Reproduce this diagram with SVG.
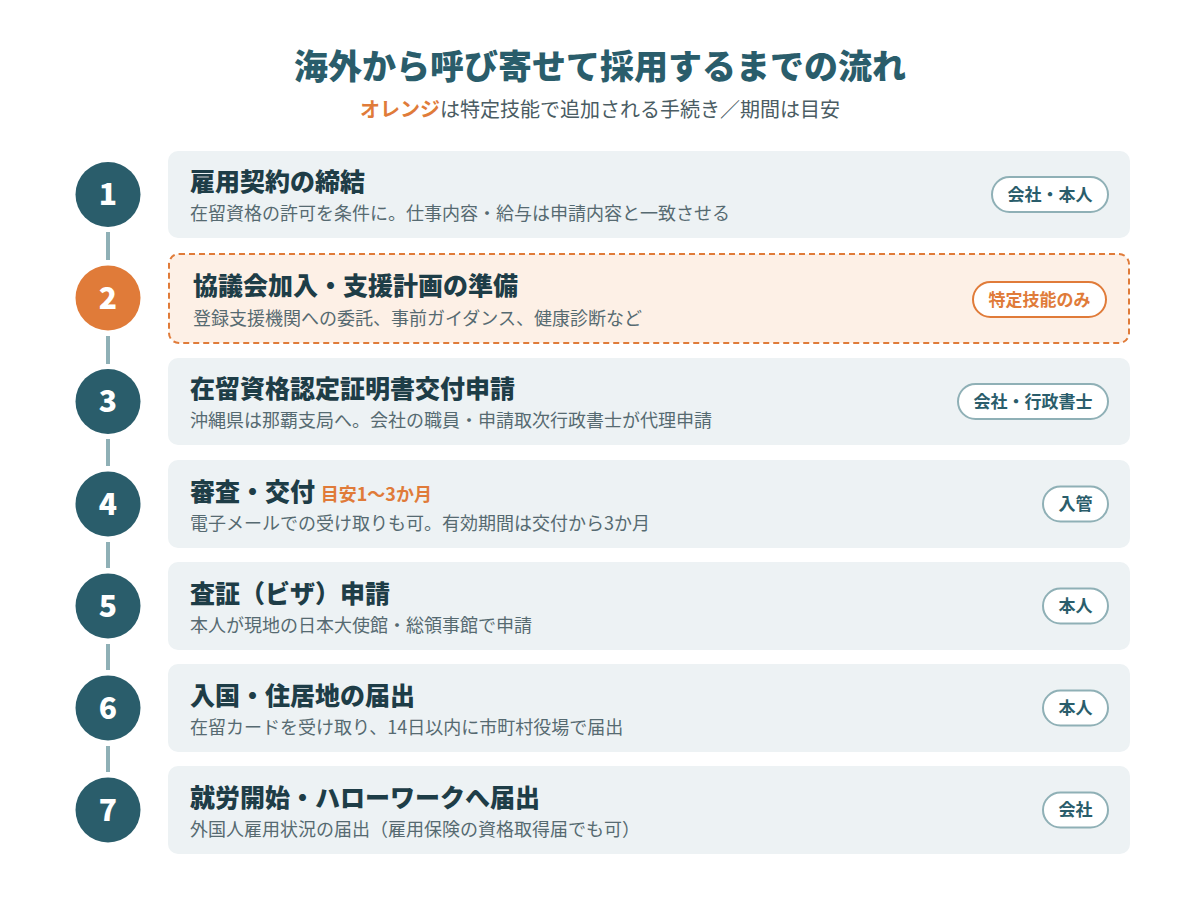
<svg xmlns="http://www.w3.org/2000/svg" width="1200" height="900" viewBox="0 0 1200 900">
<style>
text{font-family:"Noto Sans CJK JP","Noto Sans",sans-serif;}
.ttl{font-size:34px;font-weight:900;fill:#2a5d6b;}
.sub{font-size:20px;fill:#4a5c63;}
.card{fill:#edf2f4;}
.card2{fill:#fdf0e6;stroke:#e07b39;stroke-width:2;stroke-dasharray:6 4;}
.num{font-size:30px;font-weight:900;fill:#ffffff;text-anchor:middle;}
.h{font-size:25px;font-weight:900;fill:#1e3d47;}
.d{font-size:18px;fill:#566a71;}
.badge{fill:#ffffff;stroke:#8fb0b6;stroke-width:2;}
.badge2{fill:#ffffff;stroke:#e07b39;stroke-width:2;}
.bt{font-size:17px;font-weight:700;fill:#2a5d6b;text-anchor:middle;}
.bt2{font-size:17px;font-weight:700;fill:#e07b39;text-anchor:middle;}
.conn{stroke:#8fb0b6;stroke-width:4;}
</style>
<rect width="1200" height="900" fill="#ffffff"/>
<g id="header">
<text class="ttl" x="600" y="79" text-anchor="middle">海外から呼び寄せて採用するまでの流れ</text>
<text class="sub" x="600" y="117" text-anchor="middle"><tspan font-weight="700" fill="#e07b39">オレンジ</tspan>は特定技能で追加される手続き／期間は目安</text>
</g>
<g id="connectors">
<line class="conn" x1="108" y1="232" x2="108" y2="260"/>
<line class="conn" x1="108" y1="336" x2="108" y2="364"/>
<line class="conn" x1="108" y1="439" x2="108" y2="466"/>
<line class="conn" x1="108" y1="542" x2="108" y2="568"/>
<line class="conn" x1="108" y1="644" x2="108" y2="670"/>
<line class="conn" x1="108" y1="746" x2="108" y2="772"/>
</g>
<g id="step1">
<circle cx="108" cy="194.5" r="32.5" fill="#2a5d6b"/>
<text class="num" x="108" y="205">1</text>
<rect class="card" x="168" y="151" width="962" height="87" rx="10"/>
<text class="h" x="190" y="191">雇用契約の締結</text>
<text class="d" x="190" y="220">在留資格の許可を条件に。仕事内容・給与は申請内容と一致させる</text>
<rect class="badge" x="992" y="177" width="116" height="35" rx="17.5"/>
<text class="bt" x="1050" y="200.5">会社・本人</text>
</g>
<g id="step2">
<circle cx="108" cy="298" r="32.5" fill="#e07b39"/>
<text class="num" x="108" y="308.5">2</text>
<rect class="card2" x="169" y="254" width="960" height="89" rx="10"/>
<text class="h" x="193" y="295">協議会加入・支援計画の準備</text>
<text class="d" x="193" y="325">登録支援機関への委託、事前ガイダンス、健康診断など</text>
<rect class="badge2" x="973" y="282" width="133" height="35" rx="17.5"/>
<text class="bt2" x="1039.5" y="305.5">特定技能のみ</text>
</g>
<g id="step3">
<circle cx="108" cy="401.5" r="32.5" fill="#2a5d6b"/>
<text class="num" x="108" y="412">3</text>
<rect class="card" x="168" y="358" width="962" height="87" rx="10"/>
<text class="h" x="190" y="398">在留資格認定証明書交付申請</text>
<text class="d" x="190" y="427">沖縄県は那覇支局へ。会社の職員・申請取次行政書士が代理申請</text>
<rect class="badge" x="958" y="384" width="150" height="35" rx="17.5"/>
<text class="bt" x="1033" y="407.5">会社・行政書士</text>
</g>
<g id="step4">
<circle cx="108" cy="504" r="32.5" fill="#2a5d6b"/>
<text class="num" x="108" y="514.5">4</text>
<rect class="card" x="168" y="460" width="962" height="88" rx="10"/>
<text class="h" x="190" y="501">審査・交付 <tspan font-size="18" font-weight="700" fill="#e07b39">目安1〜3か月</tspan></text>
<text class="d" x="190" y="530">電子メールでの受け取りも可。有効期間は交付から3か月</text>
<rect class="badge" x="1043" y="486.5" width="65" height="35" rx="17.5"/>
<text class="bt" x="1075.5" y="510">入管</text>
</g>
<g id="step5">
<circle cx="108" cy="606" r="32.5" fill="#2a5d6b"/>
<text class="num" x="108" y="616.5">5</text>
<rect class="card" x="168" y="562" width="962" height="88" rx="10"/>
<text class="h" x="190" y="603">査証（ビザ）申請</text>
<text class="d" x="190" y="632">本人が現地の日本大使館・総領事館で申請</text>
<rect class="badge" x="1043" y="588.5" width="65" height="35" rx="17.5"/>
<text class="bt" x="1075.5" y="612">本人</text>
</g>
<g id="step6">
<circle cx="108" cy="708" r="32.5" fill="#2a5d6b"/>
<text class="num" x="108" y="718.5">6</text>
<rect class="card" x="168" y="664" width="962" height="88" rx="10"/>
<text class="h" x="190" y="705">入国・住居地の届出</text>
<text class="d" x="190" y="734">在留カードを受け取り、14日以内に市町村役場で届出</text>
<rect class="badge" x="1043" y="690.5" width="65" height="35" rx="17.5"/>
<text class="bt" x="1075.5" y="714">本人</text>
</g>
<g id="step7">
<circle cx="108" cy="810" r="32.5" fill="#2a5d6b"/>
<text class="num" x="108" y="820.5">7</text>
<rect class="card" x="168" y="766" width="962" height="88" rx="10"/>
<text class="h" x="190" y="807">就労開始・ハローワークへ届出</text>
<text class="d" x="190" y="836">外国人雇用状況の届出（雇用保険の資格取得届でも可）</text>
<rect class="badge" x="1043" y="792.5" width="65" height="35" rx="17.5"/>
<text class="bt" x="1075.5" y="816">会社</text>
</g>
</svg>
